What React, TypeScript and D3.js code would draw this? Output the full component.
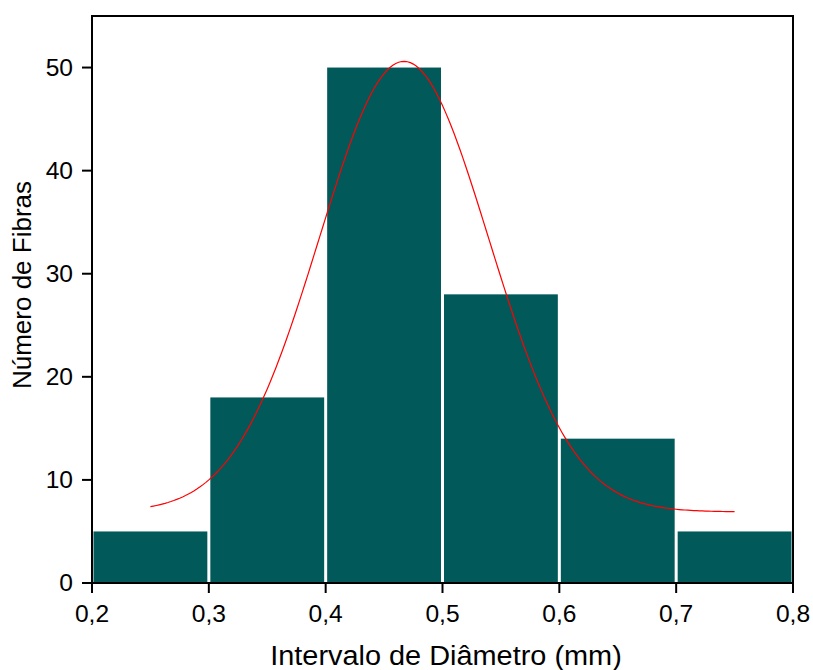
import React from "react";
import * as d3 from "d3";

const binStarts = [0.2, 0.3, 0.4, 0.5, 0.6, 0.7];
const binWidth = 0.1;
const counts = [5, 18, 50, 28, 14, 5];
const xTicks = [0.2, 0.3, 0.4, 0.5, 0.6, 0.7, 0.8];
const yTicks = [0, 10, 20, 30, 40, 50];
// Gaussian fit parameters (y0, A, xc, w)
const fitY0 = 6.9;
const fitA = 43.7;
const fitXc = 0.467;
const fitW = 0.0726;
const fitRange = [0.25, 0.75];

const W = 813;
const H = 670;
const m = { left: 92, right: 20, top: 16, bottom: 87 };
const SX = 1.07;

export default function App() {
  const x = d3.scaleLinear().domain([0.2, 0.8]).range([m.left, W - m.right]);
  const y = d3.scaleLinear().domain([0, 55]).range([H - m.bottom, m.top]);
  const fmt = (v: number) => v.toFixed(1).replace(".", ",");
  const fitPts = d3.range(0, 201).map((i) => {
    const xv = fitRange[0] + ((fitRange[1] - fitRange[0]) * i) / 200;
    return [xv, fitY0 + fitA * Math.exp(-((xv - fitXc) ** 2) / (2 * fitW * fitW))] as [number, number];
  });
  const line = d3
    .line<[number, number]>()
    .x((d) => x(d[0]))
    .y((d) => y(d[1]))
    .curve(d3.curveLinear);
  const font = "Arial, 'Liberation Sans', sans-serif";
  const x0 = x(0.2);
  const x1 = x(0.8);
  const yb = y(0);
  const yt = y(55);
  return (
    <svg width={W} height={H} style={{ position: "absolute", left: 0, top: 0 }} fontFamily={font}>
      {binStarts.map((b, i) => (
        <rect
          key={i}
          x={x(b) + 1.5}
          y={y(counts[i])}
          width={x(b + binWidth) - x(b) - 3}
          height={yb - y(counts[i])}
          fill="#02595A"
        />
      ))}
      <path d={line(fitPts) || ""} fill="none" stroke="#ff0000" strokeWidth={1.2} />
      <rect x={x0} y={yt} width={x1 - x0} height={yb - yt} fill="none" stroke="#000" strokeWidth={2} />
      {xTicks.map((t) => (
        <g key={t}>
          <line x1={x(t)} x2={x(t)} y1={yb} y2={yb + 10} stroke="#000" strokeWidth={2} />
          <text
            transform={`translate(${x(t)}, 622) scale(${SX}, 1)`}
            textAnchor="middle"
            fontSize={23}
            fill="#000"
          >
            {fmt(t)}
          </text>
        </g>
      ))}
      {yTicks.map((t) => (
        <g key={t}>
          <line x1={x0 - 10} x2={x0} y1={y(t)} y2={y(t)} stroke="#000" strokeWidth={2} />
          <text
            transform={`translate(${x0 - 19}, ${y(t) + 8}) scale(${SX}, 1)`}
            textAnchor="end"
            fontSize={23}
            fill="#000"
          >
            {t}
          </text>
        </g>
      ))}
      <text transform={`translate(446, 665) scale(${SX}, 1)`} textAnchor="middle" fontSize={27} fill="#000">
        Intervalo de Diâmetro (mm)
      </text>
      <text
        transform={`translate(31, 285) rotate(-90)`}
        textAnchor="middle"
        fontSize={26}
        fill="#000"
      >
        Número de Fibras
      </text>
    </svg>
  );
}
